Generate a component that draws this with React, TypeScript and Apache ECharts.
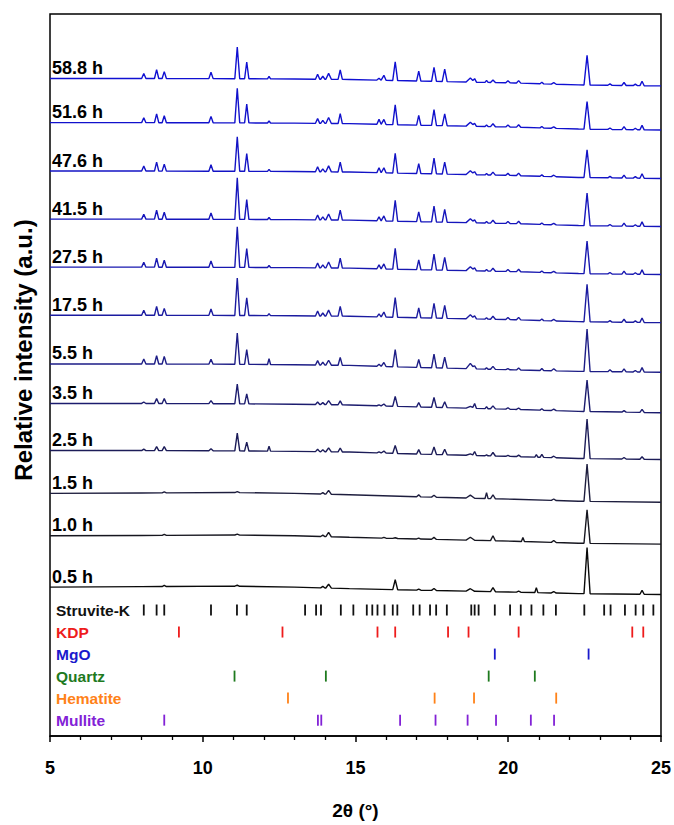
import React, { useEffect, useRef } from 'react';
import * as echarts from 'echarts';

// ---- Stacked XRD patterns (bottom to top) ----
const hours = ['0.5 h', '1.0 h', '1.5 h', '2.5 h', '3.5 h', '5.5 h', '17.5 h', '27.5 h', '41.5 h', '47.6 h', '51.6 h', '58.8 h'];
// stacking offset of each pattern (a.u.)
const offsets = [150.7, 202.7, 245.7, 289, 336.7, 376.7, 426, 474.7, 523.3, 572, 621, 665.7];
const traceColors = ['#0a0a0a', '#16161f', '#1e1e3e', '#1c1c58', '#1c1c6e', '#1d1d86', '#1b1ba0', '#1818b0', '#1515bc', '#1313c5', '#1111cc', '#1010d2'];

// background (relative to the offset) at these 2θ values
const bgX = [5, 8, 11, 13, 14.8, 17, 20.2, 22.3, 25];
const background = [
  [0, 0.5, 1, 0, -1.5, -3, -5, -6.5, -7.4],
  [0, 0.3, 0.8, 0, -1.5, -3.2, -5.5, -7.5, -8.4],
  [0, 0.3, 0.8, 0, -1.5, -3.5, -6, -8, -9],
  [0, 0, -0.3, -0.8, -1.5, -3.5, -6, -8, -9],
  [0, 0, -0.3, -0.8, -1.5, -3.5, -6, -8, -9.4],
  [0, 0, -0.3, -0.8, -1.5, -3.5, -6, -7.5, -8.4],
  [0, 0, -0.2, -0.5, -1, -2.5, -4.5, -6.5, -7.5],
  [0, 0, -0.2, -0.5, -1, -2.5, -4.5, -6.5, -7.5],
  [0, 0, -0.2, -0.5, -1, -2.5, -4.5, -6.5, -7.5],
  [0, 0, -0.2, -0.5, -1, -2.5, -4.5, -6.5, -7.5],
  [0, 0, -0.2, -0.5, -1, -2.5, -4.5, -6.5, -7.5],
  [0, 0, -0.2, -0.5, -1, -2.5, -4.5, -6.5, -7.5],
];

// reflections (2θ, °) and their half base width (°)
const peakPos = [8.07, 8.49, 8.74, 10.27, 11.13, 11.44, 12.17, 13.76, 13.93, 14.12, 14.5, 15.77, 15.93, 16.3, 17.07, 17.57, 17.92, 18.76, 18.9, 19.29, 19.5, 19.99, 20.34, 20.48, 20.92, 21.1, 21.49, 22.58, 23.33, 23.79, 24.16, 24.38];
const peakHalfWidth = [0.07, 0.07, 0.07, 0.07, 0.08, 0.07, 0.05, 0.07, 0.07, 0.09, 0.07, 0.07, 0.07, 0.08, 0.07, 0.08, 0.08, 0.14, 0.06, 0.05, 0.08, 0.07, 0.07, 0.05, 0.05, 0.06, 0.08, 0.1, 0.07, 0.07, 0.07, 0.07];

// peak heights (a.u.) per pattern, same order as hours
const heights = [
  [0, 0, 1.2, 0, 1, 0, 0, 0, 1.5, 4, 0, 0, 0, 10, 1, 2, 0, 2.5, 0, 0, 4, 0, 1, 0, 5, 0, 1.5, 46.7, 0, 0, 0, 4],
  [0, 0, 1, 0, 1, 0, 0, 0, 1.5, 4.5, 0, 0, 0.7, 0.7, 1, 2, 0, 3, 0, 0, 5, 0, 0, 4, 0, 0, 2, 34, 0, 0, 0, 0],
  [0, 0, 1, 0, 1, 0, 0, 0, 1.5, 4, 0, 0, 0, 0, 2, 2, 0, 3, 0, 6, 4, 0, 0, 0, 0, 0, 1.5, 37.7, 0, 0, 0, 0],
  [1.5, 4, 4, 2, 18, 9, 5, 2.5, 2, 4, 4, 1, 2, 8, 4.5, 7.5, 5.5, 1.5, 4, 1, 3.5, 1, 1.5, 0, 2.5, 3, 1.5, 40, 0, 1.5, 0, 2.5],
  [1.5, 5, 5, 3, 20, 10, 0, 2.5, 2, 4, 4, 1, 2, 10, 4.5, 10, 6, 2, 5, 2, 3, 1.5, 1.5, 0, 0, 1.5, 1.5, 31.7, 0, 1.5, 0, 3],
  [5, 8.3, 7.7, 5, 31.7, 15, 6, 4.5, 3, 5, 8, 2, 4, 17.5, 8, 14, 11, 5.5, 3, 1.5, 3, 1, 2, 0, 0, 2, 2, 43, 2, 3, 1.5, 4.5],
  [5, 9, 7, 6.5, 38, 18, 2, 5, 3, 6, 10, 3, 5, 20, 10, 15, 13, 4, 3, 1.5, 3, 2, 2.5, 0, 0, 1.5, 1.5, 38, 1.5, 3, 1.5, 4.5],
  [5, 9, 7, 6.5, 41, 19, 2, 5, 3, 6, 10, 4, 5, 21, 10, 16, 13, 4, 3, 1.5, 3, 2, 2.5, 0, 0, 1.5, 1.5, 33, 1.5, 3, 1.5, 4.5],
  [5, 9, 7, 6.5, 42, 20, 2, 5, 3, 6, 10, 4, 5, 21, 10, 16, 13, 4, 3, 1.5, 3, 2, 2.5, 0, 0, 1.5, 1.5, 33, 1.5, 3, 1.5, 4.5],
  [5, 9, 7, 6.5, 35, 18, 2, 5, 3, 6, 10, 5, 5, 20, 10, 16, 12, 4, 3, 1.5, 3, 2, 2.5, 0, 0, 1.5, 1.5, 28, 1.5, 3, 1.5, 4.5],
  [5, 9, 7, 6.5, 35, 19, 2, 5, 3, 6, 10, 5, 5, 20, 10, 16, 12, 4, 3, 1.5, 3, 2, 2.5, 0, 0, 1.5, 1.5, 28, 1.5, 3, 1.5, 4.5],
  [5, 9, 7, 6.5, 32, 17, 2.5, 5, 3, 6, 9.5, 2, 5, 19, 10, 14, 12.5, 4, 3.5, 2, 2.5, 2, 2.5, 0, 0, 1.5, 1.5, 30, 1.5, 3, 1.5, 4.5],
];

// ---- Reference patterns (2θ, °) ----
const phaseNames = ['Struvite-K', 'KDP', 'MgO', 'Quartz', 'Hematite', 'Mullite'];
const phaseColors = ['#111111', '#ee1c1c', '#1a1acc', '#1e7a1e', '#ff8218', '#8222d6'];
const struviteK = [8.07, 8.49, 8.74, 10.27, 11.12, 11.44, 13.35, 13.71, 13.87, 14.52, 14.93, 15.37, 15.55, 15.72, 15.95, 16.22, 16.37, 16.89, 17.1, 17.44, 17.64, 17.99, 18.79, 18.9, 19.03, 19.56, 20.06, 20.41, 20.76, 21.15, 21.56, 22.49, 23.14, 23.35, 23.82, 24.17, 24.42, 24.75];
const kdp = [9.22, 12.61, 15.72, 16.3, 18.03, 18.7, 20.34, 24.06, 24.42];
const mgo = [19.56, 22.63];
const quartz = [11.04, 14.03, 19.36, 20.87];
const hematite = [12.79, 17.59, 18.88, 21.57];
const mullite = [8.74, 13.77, 13.88, 16.46, 17.62, 18.67, 19.6, 20.74, 21.5];
const phaseLines = [struviteK, kdp, mgo, quartz, hematite, mullite];

const FONT = "'Liberation Sans', Arial, Helvetica, sans-serif";

function baseAt(i: number, x: number): number {
  const bg = background[i];
  for (let k = 0; k < bgX.length - 1; k++) {
    if (x >= bgX[k] && x <= bgX[k + 1]) {
      const t = (x - bgX[k]) / (bgX[k + 1] - bgX[k]);
      return offsets[i] + bg[k] + t * (bg[k + 1] - bg[k]);
    }
  }
  return offsets[i] + bg[bg.length - 1];
}

function traceData(i: number): number[][] {
  const xs: number[] = [...bgX];
  peakPos.forEach((p, j) => {
    if (heights[i][j] > 0) {
      const w = peakHalfWidth[j];
      xs.push(p - w, p, p + w);
    }
  });
  const sorted = Array.from(new Set(xs.map((v) => Math.round(v * 1000) / 1000))).sort((a, b) => a - b);
  return sorted.map((x) => {
    let y = baseAt(i, x);
    peakPos.forEach((p, j) => {
      const h = heights[i][j];
      if (h > 0) {
        const w = peakHalfWidth[j];
        const d = Math.abs(x - p);
        if (d < w) y += h * (1 - d / w);
      }
    });
    return [x, y];
  });
}

export default function App() {
  const ref = useRef<HTMLDivElement>(null);
  useEffect(() => {
    if (!ref.current) return;
    const chart = echarts.init(ref.current, null, { renderer: 'svg' });
    const series: any[] = [];
    hours.forEach((h, i) => {
      series.push({
        type: 'line',
        name: h,
        xAxisIndex: 0,
        yAxisIndex: 0,
        data: traceData(i),
        showSymbol: false,
        symbol: 'none',
        lineStyle: { color: traceColors[i], width: 1.4 },
        z: 3,
      });
    });
    series.push({
      type: 'scatter',
      name: 'labels',
      yAxisIndex: 0,
      symbolSize: 0,
      clip: false,
      itemStyle: { opacity: 1 },
      data: hours.map((h, i) => ({ value: [5, offsets[i]], name: h })),
      label: {
        show: true,
        formatter: '{b}',
        position: 'right',
        distance: 2,
        offset: [0, -10.5],
        color: '#000',
        opacity: 1,
        fontSize: 18,
        fontWeight: 'bold',
        fontFamily: FONT,
      },
      z: 5,
    });
    phaseLines.forEach((arr, k) => {
      series.push({
        type: 'scatter',
        name: phaseNames[k],
        yAxisIndex: 1,
        symbol: 'rect',
        symbolSize: [1.8, 11],
        itemStyle: { color: phaseColors[k], opacity: 1 },
        data: arr.map((x) => [x, k]),
        z: 4,
      });
    });
    series.push({
      type: 'scatter',
      name: 'phaseLabels',
      yAxisIndex: 1,
      symbolSize: 0,
      clip: false,
      itemStyle: { opacity: 1 },
      data: phaseNames.map((n, k) => ({
        value: [5, k],
        name: n,
        label: { color: phaseColors[k] },
      })),
      label: {
        show: true,
        formatter: '{b}',
        position: 'right',
        distance: 6,
        opacity: 1,
        fontSize: 15.5,
        fontWeight: 'bold',
        fontFamily: FONT,
      },
      z: 5,
    });

    chart.setOption({
      animation: false,
      backgroundColor: '#fff',
      grid: {
        left: 50,
        right: 12,
        top: 14,
        bottom: 80,
        show: true,
        borderColor: '#000',
        borderWidth: 1.5,
        backgroundColor: 'transparent',
      },
      xAxis: {
        type: 'value',
        min: 5,
        max: 25,
        interval: 5,
        name: '2θ (°)',
        nameLocation: 'middle',
        nameGap: 65,
        nameTextStyle: { fontSize: 19, fontWeight: 'bold', color: '#000', fontFamily: FONT },
        axisLine: { show: true, onZero: false, lineStyle: { color: '#000', width: 1.5 } },
        axisTick: { show: true, inside: false, length: 6, lineStyle: { color: '#000', width: 1.5 } },
        minorTick: { show: true, splitNumber: 5, length: 4, lineStyle: { color: '#000', width: 1.3 } },
        axisLabel: { fontSize: 18, fontWeight: 'bold', color: '#000', margin: 23, fontFamily: FONT },
        splitLine: { show: false },
      },
      yAxis: [
        { type: 'value', min: 0, max: 731, show: false, splitLine: { show: false } },
        { type: 'value', min: -27.06, max: 5.72, inverse: true, show: false, splitLine: { show: false } },
      ],
      graphic: [
        {
          type: 'text',
          x: 23,
          y: 350,
          rotation: Math.PI / 2,
          style: {
            text: 'Relative intensity (a.u.)',
            fontSize: 24,
            fontWeight: 'bold',
            fontFamily: FONT,
            fill: '#000',
            align: 'center',
            verticalAlign: 'middle',
          },
        },
      ],
      series,
    });
    return () => chart.dispose();
  }, []);
  return <div ref={ref} style={{ position: 'fixed', left: 0, top: 0, width: 674, height: 825 }} />;
}
